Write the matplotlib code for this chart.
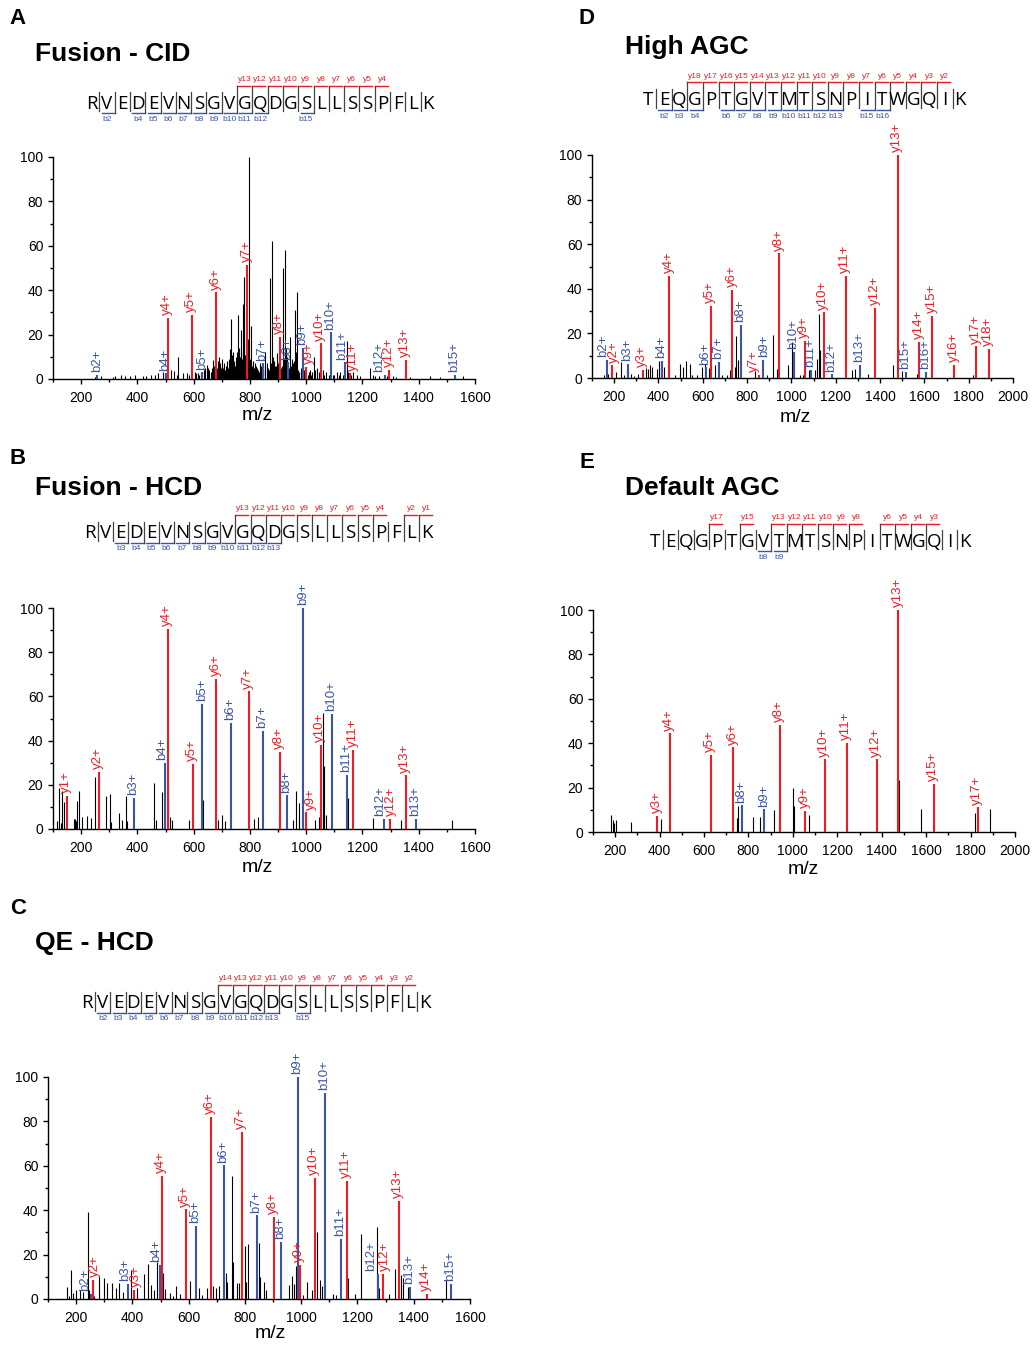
import numpy as np
import matplotlib.pyplot as plt
from matplotlib.ticker import MultipleLocator

plt.rcParams['font.family'] = ['Liberation Sans', 'DejaVu Sans']

W, H = 1032, 1346
RED = '#ec1c24'
BLUE = '#3a55a5'

seq_rv = "RVEDEVNSGVGQDGSLLSSPFLK"
seq_te = "TEQGPTGVTMTSNPITWGQIK"

# ---------------- panel A : Fusion - CID
a_b_ions = [2, 4, 5, 6, 7, 8, 9, 10, 11, 12, 15]
a_y_ions = [13, 12, 11, 10, 9, 8, 7, 6, 5, 4]
a_lab = ['b2+', 'b4+', 'y4+', 'y5+', 'b5+', 'y6+', 'y7+', 'b7+', 'y8+', 'b8+',
         'b9+', 'y9+', 'y10+', 'b10+', 'b11+', 'y11+', 'b12+', 'y12+', 'y13+', 'b15+']
a_mz = [258, 500, 507, 593, 631, 681, 791, 846, 906, 934,
        989, 998, 1052, 1088, 1139, 1155, 1279, 1295, 1353, 1530]
a_int = [2, 2.5, 27.5, 29, 3, 39, 51.5, 7, 19, 7.5,
         14, 5.5, 16, 21, 7.5, 2.5, 2, 4, 8.5, 2]
a_bk_mz = [248, 272, 313, 320, 343, 356, 373, 390, 420, 432, 450, 462, 474, 491, 521, 530,
           539, 545, 562, 575, 583, 610, 620, 640, 646, 651, 660, 669, 680, 690, 693, 699,
           705, 711, 717, 722, 728, 733, 740, 745, 750, 758, 762, 768, 772, 776, 779, 785,
           790, 796, 803, 810, 815, 823, 830, 835, 845, 852, 859, 863, 867, 871, 880, 885,
           890, 895, 900, 912, 918, 924, 930, 935, 942, 948, 952, 960, 966, 972, 980, 985,
           1001, 1013, 1020, 1027, 1037, 1045, 1060, 1072, 1080, 1095, 1108, 1120, 1130,
           1144, 1150, 1160, 1167, 1179, 1190, 1227, 1238, 1245, 1260, 1286, 1310, 1320,
           1369, 1440, 1476, 1559,
           605, 615, 625, 635, 655, 664, 674, 684, 687, 696, 702, 708, 714, 719, 725, 731,
           736, 742, 748, 753, 755, 765, 770, 774, 782, 788, 793, 799, 806, 812, 818, 826,
           833, 840, 848, 855, 875, 878, 882, 887, 892, 897, 903, 909, 915, 921, 927, 933,
           938, 945, 956, 963, 969, 975, 991, 995, 1005, 1009, 1017, 1030, 1050, 1065,
           1085, 1100, 1115, 1135, 1157]
a_bk_int = [1, 1.5, 1, 1.2, 2, 1.5, 1.5, 2, 1.5, 1.5, 2, 2, 2.5, 3, 4, 3.5,
            2, 10, 2.5, 2.5, 2, 2.5, 2, 5, 6.5, 5, 3, 8.5, 4, 10, 7, 6,
            5, 4, 8, 5, 13.6, 27, 12, 8, 10, 29, 14, 22, 9, 34, 46, 17,
            12, 100, 24, 8, 5, 6, 4, 7, 5, 12, 7, 5, 4, 45.5, 62, 8,
            6, 11.5, 7, 5, 50, 58, 10, 6, 19, 9, 7, 31, 39, 4, 5, 4,
            3, 4, 3, 10, 5, 3, 4, 3, 2, 2, 3, 3, 2,
            17, 3, 2, 3, 2, 1.5, 5, 2, 1.5, 1.5, 1.5, 1.5, 1,
            1, 1.5, 1, 1.5,
            3, 2.5, 3, 4, 4, 5, 6, 5, 8, 5, 9, 7, 6, 4, 9, 6,
            11, 7, 6, 12, 8, 10, 14, 12, 11, 16, 18, 9, 6, 4, 7, 5,
            3, 6, 4, 6, 7, 5, 10, 4, 6, 5, 8, 4, 6, 9, 14, 7,
            5, 6, 8, 12, 5, 3, 4, 3, 2, 3, 2, 4, 3, 2,
            2, 2, 2, 4, 2]

# ---------------- panel B : Fusion - HCD
b_b_ions = [3, 4, 5, 6, 7, 8, 9, 10, 11, 12, 13]
b_y_ions = [13, 12, 11, 10, 9, 8, 7, 6, 5, 4, 2, 1]
b_lab = ['y1+', 'y2+', 'b3+', 'b4+', 'y4+', 'y5+', 'b5+', 'y6+', 'b6+', 'y7+', 'b7+', 'y8+',
         'b8+', 'b9+', 'y9+', 'y10+', 'b10+', 'b11+', 'y11+', 'b12+', 'y12+', 'y13+', 'b13+']
b_mz = [150, 264, 389, 497, 507, 596, 631, 681, 732, 796, 845, 907,
        932, 990, 998, 1052, 1091, 1145, 1168, 1276, 1298, 1353, 1391]
b_int = [15, 26, 14, 30, 90.6, 29.6, 56.6, 68, 48, 62.3, 44.5, 35,
         15.2, 100, 7.5, 38, 52, 24.4, 35.7, 4.5, 4.5, 24.3, 4.5]
b_bk_mz = [113, 122.5, 127, 132, 139, 173.5, 178, 183, 186.5, 191, 204, 221, 236, 248,
           287, 304, 306, 335, 344, 361, 363, 459, 467.6, 488, 494, 510, 517, 523, 583,
           632, 687, 702, 713, 816, 828, 905, 954, 962, 973, 975, 1001, 1030, 1044, 1061,
           1064, 1072, 1149, 1238, 1337, 1519]
b_bk_int = [3.8, 18.7, 2.7, 17, 12, 4.5, 4.5, 3.5, 12.7, 17.2, 5.3, 5.7, 5, 23.4,
            14.8, 16, 3.2, 7.2, 4.2, 14.8, 3.8, 21, 4.2, 16.7, 3, 20.4, 5.4, 4, 4.2,
            13, 4, 6.5, 3.8, 4.5, 5.4, 5.4, 4.2, 17.3, 11.8, 5, 7.2, 4, 5.4, 52.5,
            28.4, 6.5, 14, 5, 4.2, 4]

# ---------------- panel C : QE - HCD
c_b_ions = [2, 3, 4, 5, 6, 7, 8, 9, 10, 11, 12, 13, 15]
c_y_ions = [14, 13, 12, 11, 10, 9, 8, 7, 6, 5, 4, 3, 2]
c_lab = ['b2+', 'y2+', 'b3+', 'y3+', 'b4+', 'y4+', 'y5+', 'b5+', 'y6+', 'b6+', 'y7+', 'b7+',
         'y8+', 'b8+', 'b9+', 'y9+', 'y10+', 'b10+', 'b11+', 'y11+', 'b12+', 'y12+',
         'y13+', 'b13+', 'y14+', 'b15+']
c_mz = [253, 259, 383, 404, 497, 504, 590, 627, 678, 726, 790, 842,
        902, 927, 987, 994, 1048, 1085, 1141, 1163, 1272, 1291,
        1348, 1385, 1447, 1532]
c_int = [2.4, 8.7, 6.9, 4.2, 15.4, 55.4, 40.4, 33, 82.2, 60.2, 75.3, 37.7,
         37.1, 25.6, 100, 15.4, 54.5, 92.8, 27, 53.3, 11.4, 11.2,
         44.2, 5.4, 2.4, 6.7]
c_bk_mz = [167, 176, 183, 190.5, 200, 212, 224, 243, 247.5, 265, 283, 300, 309, 327, 340,
           354, 367, 396, 418, 441, 455, 467, 476, 486, 508, 516, 532, 544, 556, 570, 605,
           637, 648, 665, 686, 698, 708, 731.5, 736, 755, 757.5, 771, 778, 800, 805, 811,
           849, 852.5, 869, 874, 957, 968, 975, 981, 1007, 1022, 1040, 1057, 1066, 1074,
           1113.5, 1123, 1167, 1193, 1212, 1268, 1277, 1313, 1332, 1353, 1363, 1378, 1514]
c_bk_int = [5.4, 1.2, 13.2, 2.7, 4.2, 4.2, 3.1, 39.2, 4.2, 1.5, 10.2, 9.4, 7.2, 7.2, 5,
            7.2, 3.1, 13.2, 5, 11.2, 15.9, 6.4, 3.9, 16.5, 11.7, 4.5, 2.7, 1.2, 5.7, 2.4, 8,
            5, 2, 5, 6, 5, 5.7, 11.7, 7.5, 55.4, 16.5, 7.2, 7, 23.7, 7.8, 24.9,
            25.3, 10, 7.5, 3.9, 6.4, 10.5, 6.9, 14.7, 2, 7.5, 4.2, 30.2, 8.4, 5.7,
            2.4, 2, 9.4, 2.1, 29.2, 32.3, 4.8, 2.2, 13.5, 10.8, 9.6, 5.4, 8.4]

# ---------------- panel D : High AGC
d_b_ions = [2, 3, 4, 6, 7, 8, 9, 10, 11, 12, 13, 15, 16]
d_y_ions = [18, 17, 16, 15, 14, 13, 12, 11, 10, 9, 8, 7, 6, 5, 4, 3, 2]
d_lab = ['b2+', 'y2+', 'b3+', 'y3+', 'b4+', 'y4+', 'b6+', 'y5+', 'b7+', 'y6+', 'b8+', 'y7+',
         'b9+', 'y8+', 'b10+', 'y9+', 'b11+', 'y10+', 'b12+', 'y11+', 'b13+', 'y12+',
         'y13+', 'b15+', 'y14+', 'b16+', 'y15+', 'y16+', 'y17+', 'y18+']
d_mz = [165.5, 189.5, 263, 329, 416, 449, 615.5, 635, 674, 734, 773, 852,
        873.5, 945.5, 1011.5, 1059.5, 1088, 1145, 1181, 1247, 1310, 1379,
        1481, 1517, 1577, 1605.5, 1635.5, 1734.5, 1835, 1892]
d_int = [8.2, 5.7, 6.4, 3.7, 7.5, 45.7, 4.8, 32.4, 7.3, 39.4, 23.7, 1.5,
         8, 55.9, 11.7, 16.5, 3.7, 29.4, 1.6, 45.7, 6, 31.6,
         100, 2.8, 16.2, 2.8, 27.9, 6, 14.2, 13.2]
d_bk_mz = [155, 173, 207.5, 231.5, 245, 257, 275, 290, 309.5, 342.5, 353, 362, 372.5, 392,
           402.5, 410, 425, 473, 497, 512, 525.5, 542, 552.5, 575, 597.5, 608, 626, 653,
           687.5, 710, 725, 744.5, 752, 759.5, 834.5, 890, 917, 936.5, 986, 1001, 1007,
           1037, 1052, 1077.5, 1104.5, 1116.5, 1125.5, 1130, 1272.5, 1287.5, 1347.5, 1460,
           1497.5, 1565, 1820]
d_bk_int = [1.5, 2, 2.7, 7.2, 1.5, 3.4, 1.6, 1, 2, 4.6, 4.2, 5.7, 5, 4.2,
            7.6, 7.6, 5, 1.2, 6.4, 5, 7.6, 6.4, 1.2, 1.2, 5, 6.4, 4.6, 5.7,
            1.2, 1.2, 3.7, 5, 18.7, 7.9, 3.1, 1.2, 19.2, 4.2, 5.7, 16.2, 4.2,
            1.5, 1.5, 3.4, 3.7, 8.7, 28.5, 12.4, 3.4, 4.2, 1.6, 6,
            3.1, 1.9, 1.2]

# ---------------- panel E : Default AGC
e_b_ions = [8, 9]
e_y_ions = [17, 15, 13, 12, 11, 10, 9, 8, 6, 5, 4, 3]
e_lab = ['y3+', 'y4+', 'y5+', 'y6+', 'b8+', 'b9+', 'y8+', 'y9+', 'y10+', 'y11+', 'y12+',
         'y13+', 'y15+', 'y17+']
e_mz = [389, 444.5, 632, 732.5, 771.5, 872, 942.5, 1056.5, 1143.5, 1244, 1377.5,
        1475, 1635.5, 1832]
e_int = [7.2, 44.4, 34.7, 38.1, 12, 10.2, 48.2, 9.5, 32.7, 40, 32.7,
         100, 21.8, 11.1]
e_bk_mz = [182, 188, 194, 203, 270.5, 405.5, 749, 753.5, 821, 854, 917, 936.5, 999.5,
           1007, 1073, 1479.5, 1575.5, 1821.5, 1887.5]
e_bk_int = [7.7, 5.4, 4.2, 5.4, 4.5, 6, 6.3, 11.7, 6.6, 6.9, 9.9, 7.2, 19.7,
            11.7, 7.5, 23.4, 10.5, 8.7, 10.5]


fig = plt.figure(figsize=(W / 100, H / 100), dpi=100)


def px_axes(l, t, r, b):
    return fig.add_axes([l / W, 1 - b / H, (r - l) / W, (b - t) / H])


def spectrum(box, xmax, lab, mz, inten, bk_mz, bk_int, shifts={}):
    ax = px_axes(*box)
    ax.vlines(bk_mz, 0, bk_int, color='black', lw=0.8, clip_on=False)
    for s, m, v in zip(lab, mz, inten):
        c = RED if s[0] == 'y' else BLUE
        ax.vlines(m, 0, v, color=c, lw=1.5, clip_on=False, zorder=3)
        ax.annotate(s, xy=(m, v), xytext=(shifts.get(s, -0.7) * 0.72, 2),
                    textcoords='offset points', rotation=90, ha='center', va='bottom',
                    color=c, fontsize=9.5, annotation_clip=False)
    ax.set_xlim(100, xmax)
    ax.set_ylim(0, 100)
    ax.xaxis.set_major_locator(MultipleLocator(200))
    ax.xaxis.set_minor_locator(MultipleLocator(100))
    ax.yaxis.set_major_locator(MultipleLocator(20))
    ax.yaxis.set_minor_locator(MultipleLocator(10))
    for sp in ['top', 'right']:
        ax.spines[sp].set_visible(False)
    for sp in ['left', 'bottom']:
        ax.spines[sp].set_linewidth(1)
    ax.tick_params(which='major', direction='out', length=3.5, width=1, labelsize=10)
    ax.tick_params(which='minor', direction='out', length=2.2, width=1)
    ax.tick_params(axis='x', pad=5)
    ax.patch.set_alpha(0)
    return ax


spectrum((53, 157, 475, 379), 1600, a_lab, a_mz, a_int, a_bk_mz, a_bk_int,
         {'y9+': 3.5, 'y11+': 3.3, 'b11+': -2.7, 'b12+': -5.5, 'y12+': -0.5})
spectrum((53, 608, 475, 829), 1600, b_lab, b_mz, b_int, b_bk_mz, b_bk_int,
         {'y9+': 5, 'b12+': -3.5, 'y12+': 1, 'b4+': -3})
spectrum((48, 1077, 470, 1299), 1600, c_lab, c_mz, c_int, c_bk_mz, c_bk_int,
         {'b2+': -5.5, 'y2+': 2.5, 'b3+': -2.5, 'y3+': 2.5, 'b4+': -4,
          'b12+': -7, 'y12+': 2})
spectrum((592, 155, 1013, 378), 2000, d_lab, d_mz, d_int, d_bk_mz, d_bk_int,
         {'b2+': -3.5, 'y2+': 2, 'y7+': -4.5, 'b9+': 0.5})
spectrum((593, 610, 1015, 832), 2000, e_lab, e_mz, e_int, e_bk_mz, e_bk_int)

# overlay in pixel coordinates for titles and sequences
ov = fig.add_axes([0, 0, 1, 1])
ov.set_xlim(0, W)
ov.set_ylim(H, 0)
ov.axis('off')
ov.patch.set_alpha(0)


def sequence(seq, x0, sp, yc, b_ions, y_ions):
    n = len(seq)
    for i, ch in enumerate(seq):
        ov.text(x0 + i * sp, yc + 6.8, ch, fontsize=13.5, family='Open Sans',
                ha='center', va='baseline')
    for k in range(1, n):
        gx = x0 + (k - 0.5) * sp
        top, bot = yc - 10, yc + 9
        if (n - k) in y_ions:
            top = yc - 16.5
            ov.plot([gx, gx + sp * 0.85], [top, top], color=RED, lw=1)
            ov.text(x0 + k * sp, yc - 22.5, 'y%d' % (n - k), color=RED, fontsize=6,
                    ha='center', va='center')
        if k in b_ions:
            bot = yc + 11
            ov.plot([gx - sp * 0.85, gx], [bot, bot], color=BLUE, lw=1)
            ov.text(x0 + (k - 1) * sp, yc + 17.5, 'b%d' % k, color=BLUE, fontsize=6,
                    ha='center', va='center')
        ov.plot([gx, gx], [top, bot], color='#444444', lw=0.9)


sequence(seq_rv, 91.7, 15.3, 102, a_b_ions, a_y_ions)
sequence(seq_rv, 90, 15.3, 531.5, b_b_ions, b_y_ions)
sequence(seq_rv, 87.3, 15.35, 1001.5, c_b_ions, c_y_ions)
sequence(seq_te, 648.3, 15.6, 98.5, d_b_ions, d_y_ions)
sequence(seq_te, 655, 15.5, 540, e_b_ions, e_y_ions)

for x, y, s in [(18, 19, 'A'), (18, 458, 'B'), (18, 908, 'C'), (587, 19, 'D'), (587, 462, 'E')]:
    ov.text(x, y, s, fontsize=16, weight='bold', ha='center', va='center')
for x, y, s in [(35, 54, 'Fusion - CID'), (35, 488, 'Fusion - HCD'), (35, 943, 'QE - HCD'),
                (625, 47, 'High AGC'), (625, 488, 'Default AGC')]:
    ov.text(x, y, s, fontsize=19, weight='bold', ha='left', va='center')
for x, y in [(257, 416), (257, 868), (270, 1334), (795, 418), (803, 870)]:
    ov.text(x, y, 'm/z', fontsize=14, ha='center', va='center')

fig.savefig('out.png', dpi=100)
